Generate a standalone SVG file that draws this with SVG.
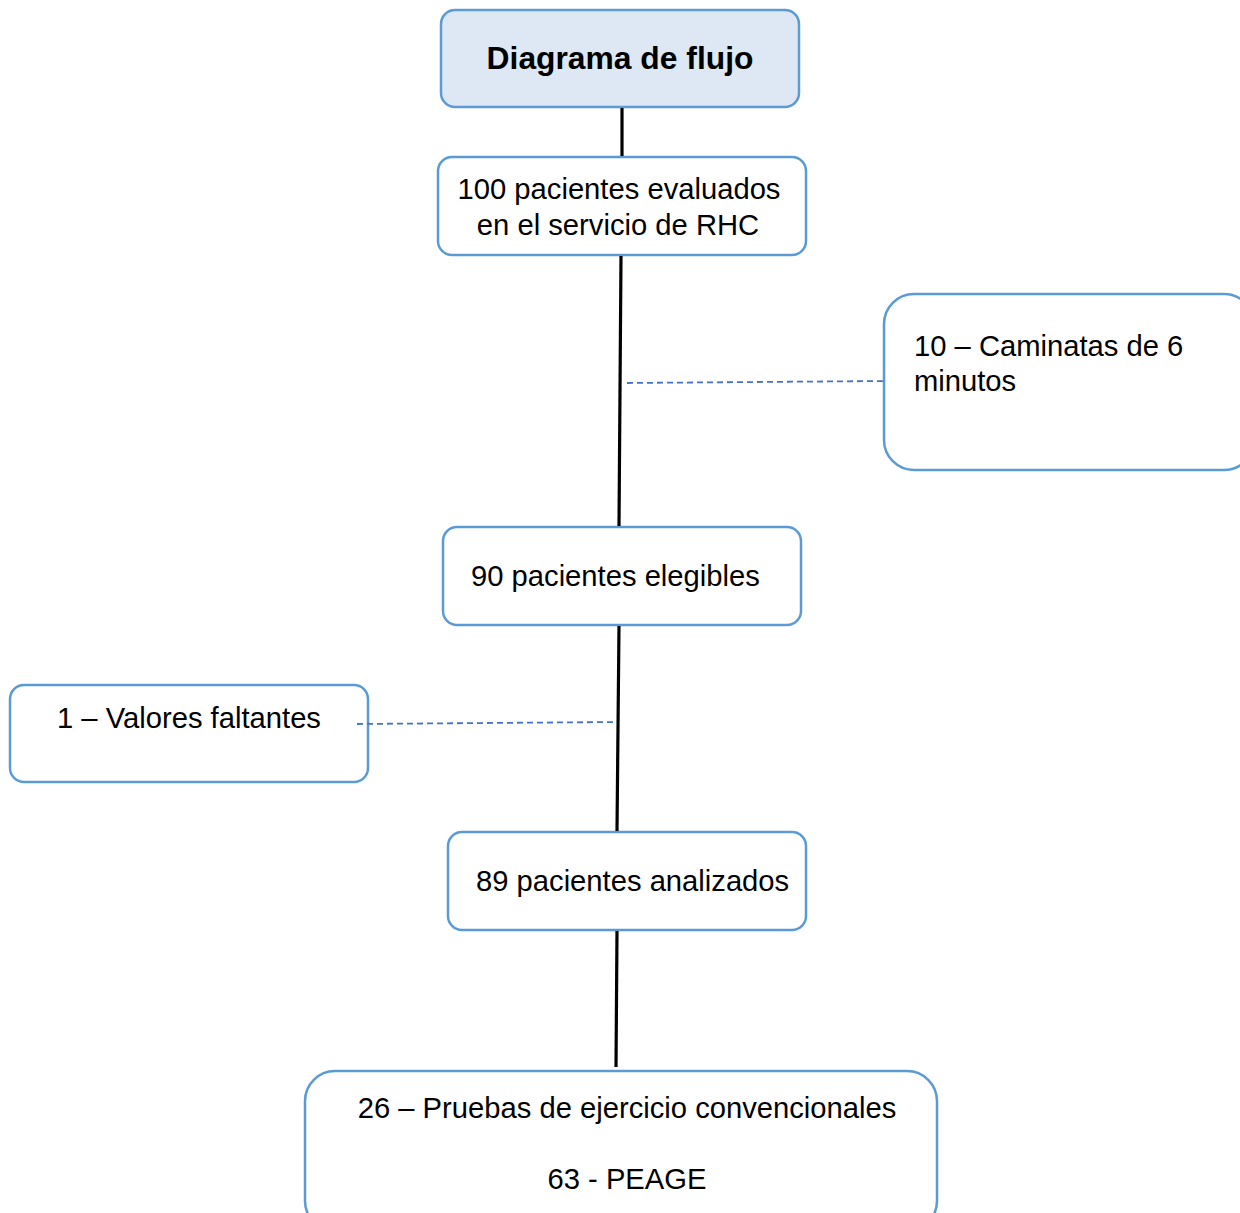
<svg xmlns="http://www.w3.org/2000/svg" width="1240" height="1213" viewBox="0 0 1240 1213">
<style>
.box{fill:#ffffff;stroke:#5b9bd5;stroke-width:2.5}
.title{fill:#dde8f4;stroke:#5b9bd5;stroke-width:2.5}
text{font-family:"Liberation Sans",Arial,sans-serif;font-size:29.2px;fill:#000}
.b{font-weight:bold;font-size:31.8px}
.solid{stroke:#000;stroke-width:3.2;fill:none}
.dash{stroke:#4472c4;stroke-width:1.8;stroke-dasharray:6 4;fill:none}
</style>
<rect width="1240" height="1213" fill="#ffffff"/>
<g id="title">
<rect class="title" x="441" y="10" width="358" height="97" rx="14"/>
<text class="b" x="620" y="69" text-anchor="middle">Diagrama de flujo</text>
</g>
<g id="n100">
<rect class="box" x="438" y="157" width="368" height="98" rx="14"/>
<text x="619" y="199" text-anchor="middle">100 pacientes evaluados</text>
<text x="618" y="235" text-anchor="middle">en el servicio de RHC</text>
</g>
<g id="n10">
<rect class="box" x="884" y="294" width="370" height="176" rx="30"/>
<text x="914" y="356">10 – Caminatas de 6</text>
<text x="914" y="391">minutos</text>
</g>
<g id="n90">
<rect class="box" x="443" y="527" width="358" height="98" rx="14"/>
<text x="471" y="586">90 pacientes elegibles</text>
</g>
<g id="n1">
<rect class="box" x="10" y="685" width="358" height="97" rx="14"/>
<text x="189" y="728" text-anchor="middle">1 – Valores faltantes</text>
</g>
<g id="n89">
<rect class="box" x="448" y="832" width="358" height="98" rx="14"/>
<text x="476" y="891">89 pacientes analizados</text>
</g>
<g id="n26">
<rect class="box" x="305" y="1071" width="632" height="160" rx="30"/>
<text x="627" y="1118" text-anchor="middle">26 – Pruebas de ejercicio convencionales</text>
<text x="627" y="1189" text-anchor="middle">63 - PEAGE</text>
</g>
<g id="connectors">
<line class="solid" x1="622" y1="108" x2="622" y2="156"/>
<line class="solid" x1="621" y1="256" x2="619" y2="526"/>
<line class="solid" x1="619" y1="626" x2="617" y2="831"/>
<line class="solid" x1="617" y1="931" x2="616" y2="1067"/>
<line class="dash" x1="627" y1="383" x2="887" y2="381"/>
<line class="dash" x1="357" y1="724" x2="617" y2="722"/>
</g>
</svg>
